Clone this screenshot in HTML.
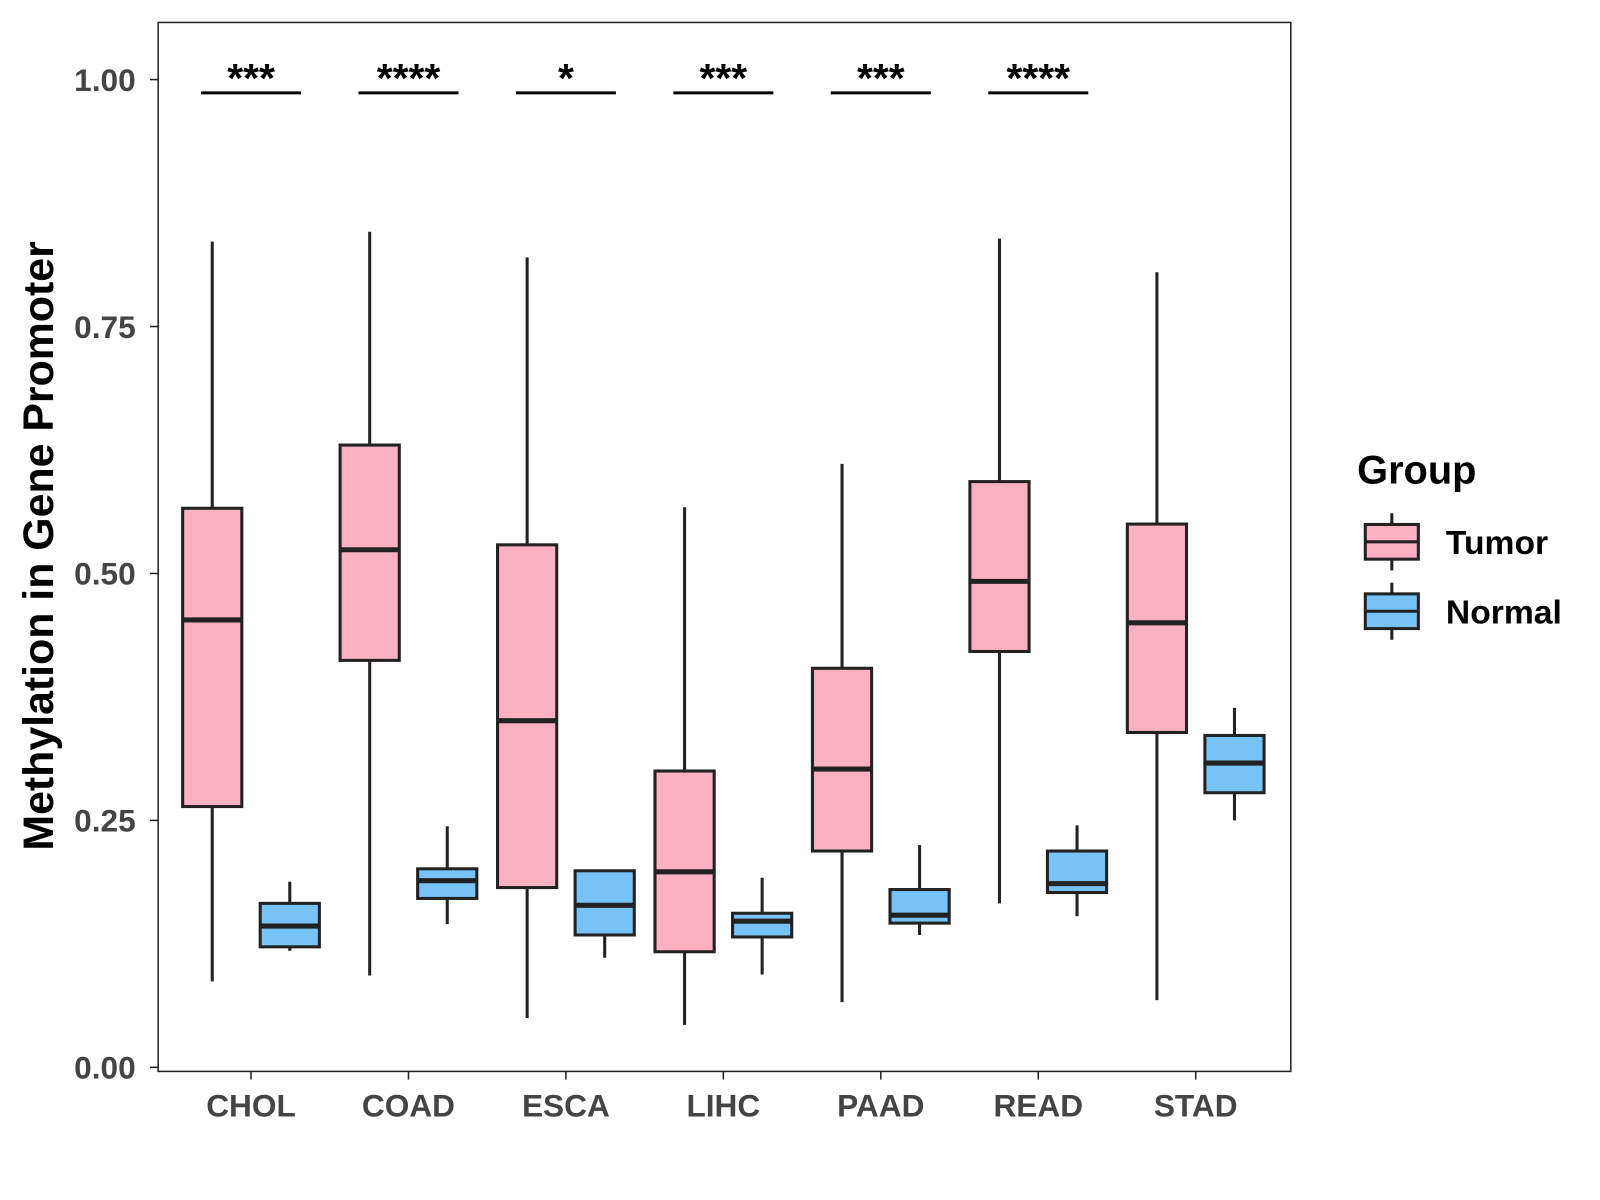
<!DOCTYPE html>
<html><head><meta charset="utf-8"><style>
body{margin:0;background:#fff}
svg{display:block;font-family:"Liberation Sans",Arial,sans-serif}
</style></head><body>
<svg id="chart" width="1600" height="1200" viewBox="0 0 1600 1200">
<g transform="scale(1.0204)">
<rect x="155" y="22" width="1110" height="1028" fill="#fff" stroke="#222" stroke-width="1.5"/>
<g id="marks"></g>
<text transform="translate(52,535) rotate(-90)" text-anchor="middle" font-size="42" font-weight="bold" fill="#000">Methylation in Gene Promoter</text>
<g>
<text x="1330" y="474" font-size="39" font-weight="bold">Group</text>
<g>
<line x1="1364" y1="503" x2="1364" y2="559" stroke="#222" stroke-width="3"/>
<rect x="1338" y="514" width="52" height="34" fill="#FBB0C3" stroke="#222" stroke-width="3"/>
<line x1="1338" y1="531" x2="1390" y2="531" stroke="#222" stroke-width="3"/>
<text x="1417" y="543" font-size="33" font-weight="bold">Tumor</text></g>
<g>
<line x1="1364" y1="571" x2="1364" y2="627" stroke="#222" stroke-width="3"/>
<rect x="1338" y="582" width="52" height="34" fill="#77C3F7" stroke="#222" stroke-width="3"/>
<line x1="1338" y1="599" x2="1390" y2="599" stroke="#222" stroke-width="3"/>
<text x="1417" y="611" font-size="33" font-weight="bold">Normal</text></g>
</g>
</g>
</svg>
<script>
const categories=["CHOL","COAD","ESCA","LIHC","PAAD","READ","STAD"];
const tumorMin=[0.087,0.093,0.050,0.043,0.066,0.166,0.068];
const tumorQ1=[0.264,0.412,0.182,0.117,0.219,0.421,0.339];
const tumorMed=[0.453,0.524,0.351,0.198,0.302,0.492,0.450];
const tumorQ3=[0.566,0.630,0.529,0.300,0.404,0.593,0.550];
const tumorMax=[0.836,0.846,0.820,0.567,0.611,0.839,0.805];
const normalMin=[0.118,0.145,0.111,0.094,0.134,0.153,0.250];
const normalQ1=[0.122,0.171,0.134,0.132,0.146,0.177,0.278];
const normalMed=[0.143,0.189,0.164,0.148,0.154,0.186,0.308];
const normalQ3=[0.166,0.201,0.199,0.156,0.180,0.219,0.336];
const normalMax=[0.188,0.244,0.200,0.192,0.225,0.245,0.364];
const sigLabels=["***","****","*","***","***","****",""];
const yTicks=[0,0.25,0.5,0.75,1.0];
const yTickLabels=["0.00","0.25","0.50","0.75","1.00"];
const NS="http://www.w3.org/2000/svg";
const g=document.getElementById('marks');
function y(v){return 1046-968*v;}
function x(i){return 246+i*154.3;}
function mk(tag,attrs,parent){const e=document.createElementNS(NS,tag);for(const k in attrs)e.setAttribute(k,attrs[k]);(parent||g).appendChild(e);return e;}
yTicks.forEach((t,i)=>{
  const tk=mk('line',{x1:147,x2:155,y1:y(t),y2:y(t),stroke:'#222','stroke-width':1.5});
  
  
  const tx=mk('text',{x:133,y:y(t)+11,'text-anchor':'end','font-size':31,'font-weight':'bold',fill:'#444'});
  tx.textContent=yTickLabels[i];
  
  
});
function box(cx,mn,q1,md,q3,mx,fill,name){
  const grp=mk('g',{});
  
  
  mk('line',{x1:cx,x2:cx,y1:y(mx),y2:y(q3),stroke:'#222','stroke-width':3},grp);
  mk('line',{x1:cx,x2:cx,y1:y(q1),y2:y(mn),stroke:'#222','stroke-width':3},grp);
  mk('rect',{x:cx-29,y:y(q3),width:58,height:y(q1)-y(q3),fill:fill,stroke:'#222','stroke-width':3},grp);
  mk('line',{x1:cx-29,x2:cx+29,y1:y(md),y2:y(md),stroke:'#222','stroke-width':5},grp);
}
categories.forEach((c,i)=>{
  const cx=x(i);
  box(cx-38,tumorMin[i],tumorQ1[i],tumorMed[i],tumorQ3[i],tumorMax[i],'#FBB0C3','box-tumor-'+c.toLowerCase());
  box(cx+38,normalMin[i],normalQ1[i],normalMed[i],normalQ3[i],normalMax[i],'#77C3F7','box-normal-'+c.toLowerCase());
  const tk=mk('line',{x1:cx,x2:cx,y1:1050,y2:1058,stroke:'#222','stroke-width':1.5});
  
  
  const tx=mk('text',{x:cx,y:1094,'text-anchor':'middle','font-size':31,'font-weight':'bold',fill:'#444'});
  tx.textContent=c;
  
  
  if(sigLabels[i]){
    const l=mk('line',{x1:cx-49,x2:cx+49,y1:91,y2:91,stroke:'#000','stroke-width':3});
    
    
    const s=mk('text',{x:cx,y:90,'text-anchor':'middle','font-size':40,'font-weight':'bold',fill:'#000'});
    s.textContent=sigLabels[i];
    
    
  }
});
</script>
</body></html>
